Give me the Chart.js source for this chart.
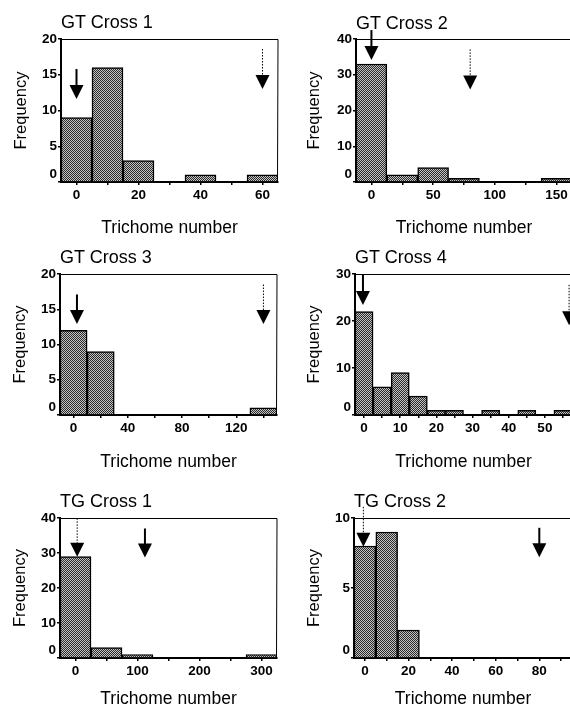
<!DOCTYPE html>
<html>
<head>
<meta charset="utf-8">
<script src="https://cdn.jsdelivr.net/npm/chart.js@4.4.1/dist/chart.umd.min.js"></script>
<style>
  html, body { margin: 0; padding: 0; background: #fff; }
  body { width: 570px; height: 712px; overflow: hidden; position: relative; font-family: "Liberation Sans", Arial, sans-serif; }
  .panel { position: absolute; }
  .panel canvas { display: block; }
  .title { position: absolute; font-size: 18px; line-height: 18px; color: #000; white-space: nowrap; }
</style>
</head>
<body>
<script>
// ---- data ----
const titles = ['GT Cross 1', 'GT Cross 2', 'GT Cross 3', 'GT Cross 4', 'TG Cross 1', 'TG Cross 2'];

const bins1 = [0, 10, 20, 30, 40, 50, 60];
const counts1 = [9, 16, 3, 0, 1, 0, 1];
const bins2 = [0, 25, 50, 75, 100, 125, 150];
const counts2 = [33, 2, 4, 1, 0, 0, 1];
const bins3 = [0, 20, 40, 60, 80, 100, 120, 140];
const counts3 = [12, 9, 0, 0, 0, 0, 0, 1];
const bins4 = [0, 5, 10, 15, 20, 25, 30, 35, 40, 45, 50, 55];
const counts4 = [22, 6, 9, 4, 1, 1, 0, 1, 0, 1, 0, 1];
const bins5 = [0, 50, 100, 150, 200, 250, 300];
const counts5 = [29, 3, 1, 0, 0, 0, 1];
const bins6 = [0, 10, 20];
const counts6 = [8, 9, 2];

// x tick marks and the labelled subset
const xTicks1 = [0, 10, 20, 30, 40, 50, 60];       const xLabels1 = [0, 20, 40, 60];
const xTicks2 = [0, 25, 50, 75, 100, 125, 150];    const xLabels2 = [0, 50, 100, 150];
const xTicks3 = [0, 20, 40, 60, 80, 100, 120, 140]; const xLabels3 = [0, 40, 80, 120];
const xTicks4 = [0, 5, 10, 15, 20, 25, 30, 35, 40, 45, 50, 55]; const xLabels4 = [0, 10, 20, 30, 40, 50];
const xTicks5 = [0, 50, 100, 150, 200, 250, 300];  const xLabels5 = [0, 100, 200, 300];
const xTicks6 = [0, 10, 20, 30, 40, 50, 60, 70, 80, 90]; const xLabels6 = [0, 20, 40, 60, 80];

const yTicks1 = [0, 5, 10, 15, 20];
const yTicks2 = [0, 10, 20, 30, 40];
const yTicks3 = [0, 5, 10, 15, 20];
const yTicks4 = [0, 10, 20, 30];
const yTicks5 = [0, 10, 20, 30, 40];
const yTicks6 = [0, 5, 10];

// arrows: [x, start frequency, tip frequency]
const solidArrow1 = [0, 15.8, 11.6];   const dottedArrow1 = [60, 18.6, 13.0];
const solidArrow2 = [0, 42.5, 34.1];   const dottedArrow2 = [80, 37.1, 25.9];
const solidArrow3 = [2.5, 17.1, 12.9]; const dottedArrow3 = [140, 18.5, 12.9];
const solidArrow4 = [-0.3, 29.8, 23.4]; const dottedArrow4 = [56.7, 27.7, 19.1];
const solidArrow5 = [112, 37.0, 28.7]; const dottedArrow5 = [2.7, 39.9, 28.9];
const solidArrow6 = [80, 9.3, 7.2];    const dottedArrow6 = [-0.7, 10.8, 7.95];

// ---- layout (page pixels) ----
const panels = [
  { bins: bins1, counts: counts1, xTicks: xTicks1, xLabels: xLabels1, yTicks: yTicks1, solid: solidArrow1, dotted: dottedArrow1,
    x0: 0, y0: 0, area: [61, 39, 278, 182], xMid: 228, yMid: 21, min: -5, max: 65, titleTop: 13 },
  { bins: bins2, counts: counts2, xTicks: xTicks2, xLabels: xLabels2, yTicks: yTicks2, solid: solidArrow2, dotted: dottedArrow2,
    x0: 285, y0: 0, area: [356, 39, 572, 182], xMid: 228, yMid: 314, min: -12.5, max: 162.5, titleTop: 14 },
  { bins: bins3, counts: counts3, xTicks: xTicks3, xLabels: xLabels3, yTicks: yTicks3, solid: solidArrow3, dotted: dottedArrow3,
    x0: 0, y0: 240, area: [60, 274, 277, 415], xMid: 462, yMid: 20, min: -10, max: 150, titleTop: 248 },
  { bins: bins4, counts: counts4, xTicks: xTicks4, xLabels: xLabels4, yTicks: yTicks4, solid: solidArrow4, dotted: dottedArrow4,
    x0: 285, y0: 240, area: [355, 274, 572, 415], xMid: 462, yMid: 314, min: -2.5, max: 57.5, titleTop: 248 },
  { bins: bins5, counts: counts5, xTicks: xTicks5, xLabels: xLabels5, yTicks: yTicks5, solid: solidArrow5, dotted: dottedArrow5,
    x0: 0, y0: 475, area: [60, 518, 277, 658], xMid: 699, yMid: 20, min: -25, max: 325, titleTop: 492 },
  { bins: bins6, counts: counts6, xTicks: xTicks6, xLabels: xLabels6, yTicks: yTicks6, solid: solidArrow6, dotted: dottedArrow6,
    x0: 285, y0: 475, area: [354, 518, 572, 658], xMid: 699, yMid: 314, min: -5, max: 95, titleTop: 492 }
];

const CW = 290, CH = 250;

Chart.defaults.font.family = '"Liberation Sans", Arial, sans-serif';
Chart.defaults.color = '#000';

// stippled fill like the printed bars
function stipple() {
  const c = document.createElement('canvas');
  c.width = 2; c.height = 2;
  const g = c.getContext('2d');
  g.fillStyle = '#c4c4c4'; g.fillRect(0, 0, 2, 2);
  g.fillStyle = '#2a2a2a'; g.fillRect(0, 0, 1, 1); g.fillRect(1, 1, 1, 1);
  return g.createPattern(c, 'repeat');
}

function drawArrow(ctx, x, yStart, yTip, dotted) {
  const headH = 14, headW = 7;
  ctx.save();
  ctx.strokeStyle = '#000';
  ctx.lineWidth = dotted ? 1 : 2;
  if (dotted) ctx.setLineDash([1.5, 1.5]);
  ctx.beginPath();
  ctx.moveTo(x, yStart);
  ctx.lineTo(x, yTip - headH + 1);
  ctx.stroke();
  ctx.setLineDash([]);
  ctx.fillStyle = '#000';
  ctx.beginPath();
  ctx.moveTo(x - headW, yTip - headH);
  ctx.lineTo(x + headW, yTip - headH);
  ctx.lineTo(x, yTip);
  ctx.closePath();
  ctx.fill();
  ctx.restore();
}

panels.forEach((p, i) => {
  const [L, T, R, B] = p.area;
  const xBottom = p.xMid + 12 - p.y0;      // bottom of the x scale box, canvas coords
  const xHeight = xBottom - (B - p.y0);
  const yWidth = L - p.x0;

  const wrap = document.createElement('div');
  wrap.className = 'panel';
  wrap.style.left = p.x0 + 'px';
  wrap.style.top = p.y0 + 'px';
  const cv = document.createElement('canvas');
  cv.width = CW; cv.height = CH;
  wrap.appendChild(cv);
  document.body.appendChild(wrap);

  const t = document.createElement('div');
  t.className = 'title';
  t.textContent = titles[i];
  t.style.left = (L) + 'px';
  t.style.top = p.titleTop + 'px';
  document.body.appendChild(t);

  const framePlugin = {
    id: 'frame' + i,
    afterDraw(chart) {
      const { ctx, chartArea: a, scales } = chart;
      ctx.save();
      ctx.strokeStyle = '#000';
      ctx.lineWidth = 1;
      ctx.beginPath();
      ctx.moveTo(a.left, a.top + 0.5);
      ctx.lineTo(a.right, a.top + 0.5);
      ctx.lineTo(a.right - 0.5, a.bottom);
      ctx.stroke();
      ctx.restore();
      const xs = scales.x, ys = scales.y;
      drawArrow(ctx, xs.getPixelForValue(p.solid[0]), ys.getPixelForValue(p.solid[1]), ys.getPixelForValue(p.solid[2]), false);
      drawArrow(ctx, xs.getPixelForValue(p.dotted[0]), ys.getPixelForValue(p.dotted[1]), ys.getPixelForValue(p.dotted[2]), true);
    }
  };

  new Chart(cv, {
    type: 'bar',
    data: {
      datasets: [{
        data: p.bins.map((b, k) => ({ x: b, y: p.counts[k] })),
        backgroundColor: stipple(),
        borderColor: '#000',
        borderWidth: 1.5,
        barPercentage: 1,
        categoryPercentage: 1
      }]
    },
    options: {
      responsive: false,
      animation: false,
      events: [],
      layout: { padding: { left: 0, top: T - p.y0, right: CW - (R - p.x0), bottom: CH - xBottom } },
      plugins: { legend: { display: false }, tooltip: { enabled: false } },
      scales: {
        x: {
          type: 'linear',
          min: p.min, max: p.max,
          offset: false,
          afterBuildTicks: s => { s.ticks = p.xTicks.map(v => ({ value: v })); },
          afterFit: s => { s.height = xHeight; },
          ticks: {
            autoSkip: false, maxRotation: 0,
            padding: 2,
            font: { size: 13.5, weight: 'bold' },
            callback: v => (p.xLabels.includes(v) ? String(v) : '')
          },
          grid: { display: true, drawOnChartArea: false, offset: false, color: '#000', lineWidth: 1.5, tickLength: 3 },
          border: { color: '#000', width: 2 },
          title: { display: true, text: 'Trichome number', font: { size: 17.5 }, padding: { top: 0, bottom: 1.5 } }
        },
        y: {
          min: 0, max: p.yTicks[p.yTicks.length - 1],
          afterBuildTicks: s => { s.ticks = p.yTicks.map(v => ({ value: v })); },
          afterFit: s => { s.width = yWidth; },
          ticks: {
            autoSkip: false,
            padding: 1,
            font: { size: 13.5, weight: 'bold' },
            // the printed "0" sits a little above the baseline
            callback: v => (v === 0 ? ['0', ''] : String(v))
          },
          grid: { display: true, drawOnChartArea: false, color: '#000', lineWidth: 1.5, tickLength: 3 },
          border: { color: '#000', width: 2 },
          title: { display: true, text: 'Frequency', font: { size: 16.5 }, padding: { top: p.yMid - p.x0 - 9.9, bottom: 0 } }
        }
      }
    },
    plugins: [framePlugin]
  });
});
</script>
</body>
</html>
